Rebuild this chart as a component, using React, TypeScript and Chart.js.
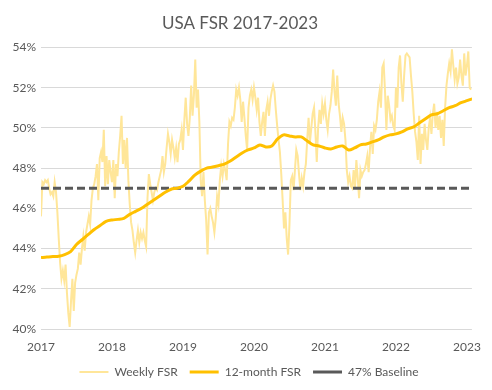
import React, { useEffect, useRef } from "react";
import { Chart, registerables } from "chart.js";
Chart.register(...registerables);

const titleText = "USA FSR 2017-2023";
const yearTicks = [2017, 2018, 2019, 2020, 2021, 2022, 2023];
const yTicks = [40, 42, 44, 46, 48, 50, 52, 54];

const weekly2017 = [45.6, 47.3, 47.2, 47.4, 47.3, 47.4, 47.0, 46.7, 46.8, 46.6, 47.3, 46.8, 45.8, 44.5, 43.3, 42.5, 42.9, 42.4, 43.2, 41.8, 40.8, 40.1, 41.4, 42.5, 40.9, 42.3, 42.7, 43.0, 43.8, 43.2, 44.0, 44.6, 43.9, 44.8, 45.2, 45.6, 45.2, 46.4, 47.0, 47.2, 47.6, 48.2, 46.4, 48.5, 48.8, 48.3, 49.9, 47.1, 48.6, 47.2, 48.4, 47.8];
const weekly2018 = [47.3, 48.4, 46.5, 48.2, 47.6, 48.8, 49.6, 50.6, 48.2, 49.4, 48.0, 49.5, 47.4, 46.2, 45.3, 44.9, 44.3, 43.8, 44.4, 44.9, 44.3, 44.8, 44.5, 44.8, 44.4, 44.1, 46.5, 47.7, 47.2, 46.8, 46.4, 46.8, 47.0, 46.9, 47.3, 47.6, 47.9, 48.6, 47.8, 48.2, 49.0, 49.7, 49.3, 48.7, 49.4, 49.0, 48.5, 49.0, 48.3, 49.2, 49.4, 49.9];
const weekly2019 = [48.9, 50.4, 51.5, 50.2, 49.6, 50.5, 52.1, 50.6, 51.6, 53.4, 51.0, 51.9, 50.3, 47.4, 46.6, 47.8, 46.4, 45.4, 43.7, 45.8, 46.0, 45.6, 45.3, 44.8, 45.5, 46.6, 46.2, 47.4, 48.1, 47.6, 48.2, 47.9, 47.4, 49.2, 50.3, 50.1, 50.5, 50.4, 51.0, 51.9, 51.6, 52.0, 51.4, 50.3, 51.3, 50.5, 49.6, 48.9, 51.0, 51.6, 51.9, 51.4];
const weekly2020 = [52.0, 51.5, 50.9, 51.5, 50.3, 49.6, 50.3, 50.8, 49.6, 50.9, 51.3, 50.6, 51.4, 51.8, 52.1, 51.8, 50.9, 50.1, 49.4, 48.8, 47.7, 46.4, 45.0, 45.8, 44.5, 43.7, 45.2, 47.4, 47.6, 46.9, 47.9, 48.9, 48.6, 47.7, 46.9, 47.5, 47.1, 47.8, 48.2, 49.4, 50.5, 49.3, 50.0, 50.7, 51.0, 49.8, 48.3, 50.0, 50.9, 50.2, 51.2, 50.7];
const weekly2021 = [51.2, 50.4, 49.9, 50.7, 51.1, 51.8, 52.9, 51.8, 51.1, 52.6, 51.2, 50.6, 49.8, 50.5, 50.2, 49.4, 47.9, 47.3, 47.6, 47.1, 47.0, 47.9, 47.0, 48.4, 47.5, 46.5, 47.9, 47.6, 47.8, 47.9, 48.2, 48.6, 47.8, 49.0, 49.8, 48.7, 50.1, 49.9, 50.4, 51.3, 51.8, 51.0, 53.0, 53.2, 51.8, 49.9, 51.6, 51.1, 50.4, 50.6, 50.1, 49.9];
const weekly2022 = [52.0, 51.0, 53.0, 53.6, 52.2, 51.3, 52.6, 53.6, 53.7, 53.6, 53.5, 52.6, 51.8, 50.7, 49.8, 49.3, 48.4, 50.6, 48.2, 49.7, 48.9, 50.2, 49.4, 48.9, 50.0, 50.5, 49.7, 50.7, 51.2, 50.0, 50.8, 49.9, 50.6, 49.5, 50.4, 49.1, 51.0, 52.1, 52.7, 53.2, 52.8, 53.9, 53.1, 52.4, 53.0, 52.2, 52.5, 53.4, 52.6, 52.1, 53.7, 52.6];
const weekly2023 = [53.1, 53.8, 52.0, 51.9];
const weeklyFSR = [...weekly2017, ...weekly2018, ...weekly2019, ...weekly2020, ...weekly2021, ...weekly2022, ...weekly2023];

const twelveMonthFSR = [
  43.55, 43.58, 43.6, 43.62, 43.7, 43.85, 44.2, 44.45, 44.7, 44.95, 45.15, 45.35,
  45.42, 45.45, 45.5, 45.7, 45.85, 46.0, 46.2, 46.4, 46.6, 46.8, 46.95, 47.0,
  47.1, 47.35, 47.65, 47.85, 48.0, 48.05, 48.12, 48.2, 48.35, 48.55, 48.75, 48.9,
  49.0, 49.15, 49.05, 49.1, 49.45, 49.65, 49.6, 49.55, 49.55, 49.35, 49.15, 49.1,
  49.0, 48.95, 49.05, 49.1, 48.9, 49.0, 49.15, 49.2, 49.3, 49.4, 49.55, 49.65,
  49.7, 49.8, 49.95, 50.05, 50.25, 50.45, 50.65, 50.7, 50.85, 51.0, 51.1, 51.25,
  51.35, 51.45,
];
const baselineValue = 47;
const seriesNames = ["Weekly FSR", "12-month FSR", "47% Baseline"];

const FONT = "Lato, 'Open Sans', sans-serif";
const TEXT = "#595959";
const X_MIN = 2017;
const X_MAX = 2023.07;
const LEGEND_HEIGHT = 36;
const LEGEND_SHIFT = 9;

const legendTweak = {
  id: "legendTweak",
  beforeLayout(chart: any) {
    const l = chart.legend;
    if (l && !l.__patched) {
      const orig = l.fit.bind(l);
      l.fit = function () {
        orig();
        this.height = LEGEND_HEIGHT;
      };
      l.__patched = true;
    }
  },
  afterLayout(chart: any) {
    const l = chart.legend;
    if (l) {
      l.left += LEGEND_SHIFT;
      l.right += LEGEND_SHIFT;
    }
  },
};

export default function App() {
  const ref = useRef<HTMLCanvasElement>(null);
  useEffect(() => {
    if (!ref.current) return;
    const weeklyPts = weeklyFSR.map((v, i) => ({ x: 2017 + i / 52, y: v }));
    const monthlyPts = twelveMonthFSR.map((v, i) => ({ x: 2017 + i / 12, y: v }));
    const basePts = [
      { x: X_MIN, y: baselineValue },
      { x: X_MAX, y: baselineValue },
    ];
    const chart = new Chart(ref.current, {
      type: "line",
      plugins: [legendTweak],
      data: {
        datasets: [
          {
            label: seriesNames[0],
            data: weeklyPts,
            borderColor: "#FFE699",
            backgroundColor: "#FFE699",
            borderWidth: 2,
            pointRadius: 0,
            tension: 0,
            order: 3,
          },
          {
            label: seriesNames[1],
            data: monthlyPts,
            borderColor: "#FFC000",
            backgroundColor: "#FFC000",
            borderWidth: 3,
            pointRadius: 0,
            tension: 0.3,
            order: 1,
          },
          {
            label: seriesNames[2],
            data: basePts,
            borderColor: "#595959",
            backgroundColor: "#595959",
            borderWidth: 3,
            borderDash: [8, 4],
            pointRadius: 0,
            order: 2,
          },
        ],
      },
      options: {
        responsive: false,
        animation: false,
        layout: { padding: { left: 0, right: 12, top: 0, bottom: 0 } },
        plugins: {
          title: {
            display: true,
            text: titleText,
            color: TEXT,
            font: { family: FONT, size: 17, weight: "normal" },
            padding: { top: 13, bottom: 14 },
          },
          legend: {
            position: "bottom",
            labels: {
              color: TEXT,
              font: { family: FONT, size: 12 },
              usePointStyle: true,
              pointStyle: "line",
              pointStyleWidth: 29,
              boxHeight: 8,
              padding: 12,
              sort: (a: any, b: any) => a.datasetIndex - b.datasetIndex,
            },
          },
          tooltip: { enabled: false },
        },
        scales: {
          x: {
            type: "linear",
            min: X_MIN,
            max: X_MAX,
            grid: { display: false, drawTicks: false },
            border: { display: false },
            afterBuildTicks: (s: any) => {
              s.ticks = yearTicks.map((v) => ({ value: v }));
            },
            afterFit: (s: any) => {
              s.height = 25;
            },
            ticks: {
              color: TEXT,
              font: { family: FONT, size: 12 },
              padding: 11,
              maxRotation: 0,
              autoSkip: false,
              callback: (v: any) => String(v),
            },
          },
          y: {
            min: 40,
            max: 54,
            afterBuildTicks: (s: any) => {
              s.ticks = yTicks.map((v) => ({ value: v }));
            },
            afterFit: (s: any) => {
              s.width = 41;
            },
            grid: { color: "#D9D9D9", lineWidth: 1, drawTicks: false },
            border: { display: false },
            ticks: {
              color: TEXT,
              font: { family: FONT, size: 12 },
              padding: 5,
              callback: (v: any) => v + "%",
            },
          },
        },
      },
    });
    return () => chart.destroy();
  }, []);
  return (
    <div style={{ position: "fixed", left: 0, top: 0, width: 492, height: 390, background: "#fff" }}>
      <canvas ref={ref} width={492} height={390} />
    </div>
  );
}
